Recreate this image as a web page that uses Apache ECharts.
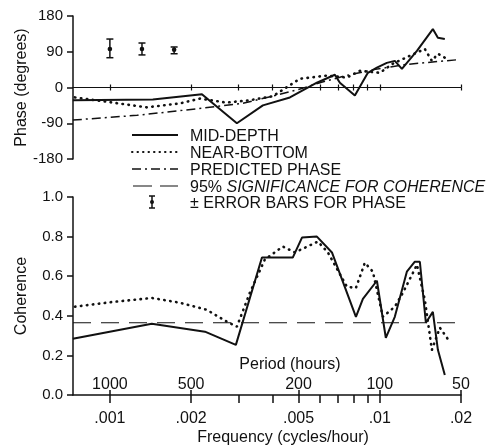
<!DOCTYPE html>
<html>
<head>
<meta charset="utf-8">
<script src="https://cdn.jsdelivr.net/npm/echarts@6/dist/echarts.min.js"></script>
<style>
  html, body { margin: 0; padding: 0; background: #fff; }
  #chart { width: 499px; height: 445px; }
</style>
</head>
<body>
<div id="chart"></div>
<script>
// Frequency range (cycles/hour), log scale
const FREQ_MIN = 0.00073;
const FREQ_MAX = 0.02;

// Phase (degrees) vs frequency
const phaseMidDepth = [
  [0.000729, -32], [0.001443, -30], [0.002193, -17], [0.002955, -90], [0.003689, -45],
  [0.004645, -25], [0.005848, 12], [0.006818, 32], [0.007116, 12], [0.008086, -20],
  [0.009035, 37], [0.009757, 50], [0.01062, 62], [0.01137, 67], [0.01208, 47],
  [0.01373, 92], [0.01573, 147], [0.01642, 125], [0.01742, 122]
];
const phaseNearBottom = [
  [0.000742, -25], [0.001, -37], [0.00137, -50], [0.001817, -40], [0.002156, -28],
  [0.0027, -38], [0.0033, -32], [0.004018, -22], [0.005058, 22], [0.006368, 30],
  [0.007553, 25], [0.008438, 42], [0.01001, 37], [0.01118, 60], [0.01469, 97],
  [0.0156, 67], [0.01642, 85], [0.01742, 75]
];
const phasePredicted = [
  [0.000729, -82], [0.00126, -70], [0.00221, -52], [0.0031, -40], [0.004, -22],
  [0.005, -5], [0.006, 12], [0.0075, 30], [0.0095, 45], [0.0125, 58], [0.0195, 70]
];

// Phase error bars: frequency, centre, lower, upper
const errFreq = [0.001, 0.001315, 0.00173];
const errCenter = [97, 97, 95];
const errLow = [75, 82, 85];
const errHigh = [122, 112, 102];

// Coherence vs frequency
const cohMidDepth = [
  [0.000729, 0.284], [0.00143, 0.36], [0.00225, 0.32], [0.00293, 0.253], [0.00366, 0.694],
  [0.00476, 0.694], [0.00515, 0.795], [0.00585, 0.80], [0.00665, 0.72], [0.00816, 0.395],
  [0.00866, 0.486], [0.00976, 0.577], [0.01053, 0.289], [0.01137, 0.395], [0.0126, 0.623],
  [0.01349, 0.673], [0.01408, 0.673], [0.01482, 0.365], [0.01573, 0.42], [0.01642, 0.228],
  [0.01742, 0.101]
];
const cohNearBottom = [
  [0.000742, 0.446], [0.001026, 0.47], [0.00143, 0.49], [0.001817, 0.466], [0.002288, 0.43],
  [0.002714, 0.37], [0.002955, 0.345], [0.0033, 0.516], [0.00375, 0.684], [0.004375, 0.75],
  [0.004846, 0.72], [0.0059, 0.775], [0.006423, 0.72], [0.007553, 0.547], [0.008155, 0.54],
  [0.008806, 0.668], [0.009428, 0.623], [0.01027, 0.395], [0.01137, 0.446], [0.01218, 0.516],
  [0.01327, 0.617], [0.01373, 0.658], [0.01469, 0.48], [0.0156, 0.228], [0.0167, 0.34],
  [0.01819, 0.268]
];
const significanceLevel = 0.365;

// Tick values and labels
const freqTicks = [0.001, 0.002, 0.005, 0.01, 0.02];
const freqTickLabels = ['.001', '.002', '.005', '.01', '.02'];
const freqMinorTicks = [0.003, 0.004, 0.006, 0.007, 0.008, 0.009];
const zeroLineTicks = [0.001, 0.002, 0.003, 0.004, 0.006, 0.007, 0.008, 0.009, 0.01, 0.02];
const periodTicks = [1000, 500, 200, 100, 50];

const FONT = '"Liberation Sans", Arial, Helvetica, sans-serif';
const INK = '#111';

function nearestIndex(values, v) {
  let best = 0, bestD = Infinity;
  values.forEach((t, i) => {
    const d = Math.abs(Math.log10(t) - Math.log10(v));
    if (d < bestD) { bestD = d; best = i; }
  });
  return best;
}

const periodFreqs = periodTicks.map(p => 1 / p);
const allFreqTicks = freqTicks.concat(freqMinorTicks).sort((a, b) => a - b);

const solid = { color: INK, width: 2 };
const dotted = { color: INK, width: 2.6, type: [0.5, 5.5], cap: 'round' };
const dashDot = { color: INK, width: 1.5, type: [9, 4, 2, 4] };

function lineSeries(data, style, axisIdx) {
  return {
    type: 'line', data: data, xAxisIndex: axisIdx, yAxisIndex: axisIdx === 0 ? 0 : 1,
    showSymbol: false, symbol: 'none', silent: true, animation: false,
    lineStyle: style
  };
}

const chart = echarts.init(document.getElementById('chart'), null, { renderer: 'canvas' });

const legendX = 132, legendTextX = 190;
const legendRows = [135, 152, 169, 186, 202];
const TEXT_SHIFT = 2;

chart.setOption({
  backgroundColor: '#fff',
  animation: false,
  textStyle: { fontFamily: FONT, color: INK },
  grid: [
    { left: 73, right: 38, top: 16, height: 143, outerBoundsMode: 'none', containLabel: false },
    { left: 73, right: 38, top: 197, height: 198, outerBoundsMode: 'none', containLabel: false }
  ],
  xAxis: [
    {
      // zero line of the phase panel, ticks below
      gridIndex: 0, type: 'log', min: FREQ_MIN, max: FREQ_MAX, position: 'bottom',
      axisLine: { onZero: true, onZeroAxisIndex: 0, lineStyle: { color: INK, width: 1.2 } },
      axisTick: { show: true, length: 3, inside: false, customValues: zeroLineTicks, lineStyle: { color: INK, width: 1.2 } },
      axisLabel: { show: false }, splitLine: { show: false }
    },
    {
      // same zero line, ticks above
      gridIndex: 0, type: 'log', min: FREQ_MIN, max: FREQ_MAX, position: 'top',
      axisLine: { show: false, onZero: true, onZeroAxisIndex: 2 },
      axisTick: { show: true, length: 3, inside: false, customValues: zeroLineTicks, lineStyle: { color: INK, width: 1.2 } },
      axisLabel: { show: false }, splitLine: { show: false }
    },
    {
      gridIndex: 1, type: 'log', min: FREQ_MIN, max: FREQ_MAX, position: 'bottom',
      axisLine: { lineStyle: { color: INK, width: 1.5 } },
      axisTick: { show: true, length: 8, customValues: allFreqTicks, lineStyle: { color: INK, width: 1.5 } },
      axisLabel: {
        customValues: freqTicks, margin: 16, fontSize: 16, color: INK, fontFamily: FONT,
        formatter: v => freqTickLabels[nearestIndex(freqTicks, v)]
      },
      splitLine: { show: false },
      name: 'Frequency (cycles/hour)', nameLocation: 'middle', nameGap: 35, nameMoveOverlap: false,
      nameTextStyle: { fontSize: 16, color: INK, fontFamily: FONT, padding: [0, 0, 0, 32] }
    },
    {
      gridIndex: 1, type: 'log', min: FREQ_MIN, max: FREQ_MAX, position: 'bottom',
      axisLine: { show: false },
      axisTick: { show: true, inside: true, length: 5, customValues: periodFreqs, lineStyle: { color: INK, width: 1.5 } },
      axisLabel: {
        inside: true, customValues: periodFreqs, margin: 2, fontSize: 16, color: INK, fontFamily: FONT,
        formatter: v => String(periodTicks[nearestIndex(periodFreqs, v)])
      },
      splitLine: { show: false }
    }
  ],
  yAxis: [
    {
      gridIndex: 0, type: 'value', min: -180, max: 180, interval: 90,
      axisLine: { show: true, onZero: false, lineStyle: { color: INK, width: 1.5 } },
      axisTick: { show: true, length: 6, lineStyle: { color: INK, width: 1.5 } },
      axisLabel: { fontSize: 15, margin: 10, color: INK, fontFamily: FONT },
      splitLine: { show: false },
      name: 'Phase (degrees)', nameLocation: 'middle', nameGap: 43, nameMoveOverlap: false,
      nameTextStyle: { fontSize: 16, color: INK, fontFamily: FONT }
    },
    {
      gridIndex: 1, type: 'value', min: 0, max: 1, interval: 0.2,
      axisLine: { show: true, onZero: false, lineStyle: { color: INK, width: 1.5 } },
      axisTick: { show: true, length: 6, lineStyle: { color: INK, width: 1.5 } },
      axisLabel: { fontSize: 15, margin: 10, color: INK, fontFamily: FONT, formatter: v => v.toFixed(1) },
      splitLine: { show: false },
      name: 'Coherence', nameLocation: 'middle', nameGap: 43, nameMoveOverlap: false,
      nameTextStyle: { fontSize: 16, color: INK, fontFamily: FONT }
    },
    {
      // hidden twin of the phase axis, anchors the upper tick row on zero
      gridIndex: 0, type: 'value', min: -180, max: 180, show: false,
      axisLine: { show: false, onZero: false }, axisTick: { show: false },
      axisLabel: { show: false }, splitLine: { show: false }
    }
  ],
  series: [
    lineSeries(phasePredicted, dashDot, 0),
    lineSeries(phaseNearBottom, dotted, 0),
    lineSeries(phaseMidDepth, solid, 0),
    {
      type: 'custom', xAxisIndex: 0, yAxisIndex: 0, silent: true,
      data: errFreq.map((f, i) => [f, errCenter[i], errLow[i], errHigh[i]]),
      encode: { x: 0, y: [1, 2, 3] },
      renderItem: function (params, api) {
        const f = api.value(0);
        const c = api.coord([f, api.value(1)]);
        const lo = api.coord([f, api.value(2)]);
        const hi = api.coord([f, api.value(3)]);
        const st = { stroke: INK, lineWidth: 1.5 };
        return {
          type: 'group',
          children: [
            { type: 'line', shape: { x1: c[0], y1: hi[1], x2: c[0], y2: lo[1] }, style: st },
            { type: 'line', shape: { x1: c[0] - 3.5, y1: hi[1], x2: c[0] + 3.5, y2: hi[1] }, style: st },
            { type: 'line', shape: { x1: c[0] - 3.5, y1: lo[1], x2: c[0] + 3.5, y2: lo[1] }, style: st },
            { type: 'circle', shape: { cx: c[0], cy: c[1], r: 2.3 }, style: { fill: INK } }
          ]
        };
      }
    },
    lineSeries([[FREQ_MIN, significanceLevel], [FREQ_MAX, significanceLevel]],
      { color: INK, width: 1.2, type: [18, 10] }, 2),
    lineSeries(cohNearBottom, dotted, 2),
    lineSeries(cohMidDepth, solid, 2)
  ],
  graphic: [
    // legend samples
    { type: 'line', shape: { x1: legendX, y1: legendRows[0], x2: legendX + 46, y2: legendRows[0] }, style: { stroke: INK, lineWidth: 2 } },
    { type: 'line', shape: { x1: legendX, y1: legendRows[1], x2: legendX + 46, y2: legendRows[1] }, style: { stroke: INK, lineWidth: 2, lineDash: [0.5, 5], lineCap: 'round' } },
    { type: 'line', shape: { x1: legendX, y1: legendRows[2], x2: legendX + 46, y2: legendRows[2] }, style: { stroke: INK, lineWidth: 1.5, lineDash: [9, 4, 2, 4] } },
    { type: 'line', shape: { x1: legendX + 1, y1: legendRows[3], x2: legendX + 46, y2: legendRows[3] }, style: { stroke: INK, lineWidth: 1.2, lineDash: [19, 8] } },
    { type: 'line', shape: { x1: 152, y1: legendRows[4] - 6, x2: 152, y2: legendRows[4] + 6 }, style: { stroke: INK, lineWidth: 1.5 } },
    { type: 'line', shape: { x1: 149, y1: legendRows[4] - 6, x2: 155, y2: legendRows[4] - 6 }, style: { stroke: INK, lineWidth: 1.5 } },
    { type: 'line', shape: { x1: 149, y1: legendRows[4] + 6, x2: 155, y2: legendRows[4] + 6 }, style: { stroke: INK, lineWidth: 1.5 } },
    { type: 'circle', shape: { cx: 152, cy: legendRows[4], r: 2 }, style: { fill: INK } },
    // legend texts
    { type: 'text', x: legendTextX, y: legendRows[0] + TEXT_SHIFT, style: { text: 'MID-DEPTH', font: '16px ' + FONT, fill: INK, verticalAlign: 'middle' } },
    { type: 'text', x: legendTextX, y: legendRows[1] + TEXT_SHIFT, style: { text: 'NEAR-BOTTOM', font: '16px ' + FONT, fill: INK, verticalAlign: 'middle' } },
    { type: 'text', x: legendTextX, y: legendRows[2] + TEXT_SHIFT, style: { text: 'PREDICTED PHASE', font: '16px ' + FONT, fill: INK, verticalAlign: 'middle' } },
    {
      type: 'text', x: legendTextX, y: legendRows[3] + TEXT_SHIFT,
      style: {
        text: '{a|95% }{b|SIGNIFICANCE FOR COHERENCE}', fill: INK, verticalAlign: 'middle',
        rich: {
          a: { fontSize: 16, fontFamily: FONT, fill: INK },
          b: { fontSize: 16, fontFamily: FONT, fontStyle: 'italic', fill: INK }
        }
      }
    },
    { type: 'text', x: legendTextX, y: legendRows[4] + TEXT_SHIFT, style: { text: '± ERROR BARS FOR PHASE', font: '16px ' + FONT, fill: INK, verticalAlign: 'middle' } },
    // period axis title
    { type: 'text', x: 290, y: 363 + TEXT_SHIFT, style: { text: 'Period (hours)', font: '16px ' + FONT, fill: INK, align: 'center', verticalAlign: 'middle' } }
  ]
});
</script>
</body>
</html>
